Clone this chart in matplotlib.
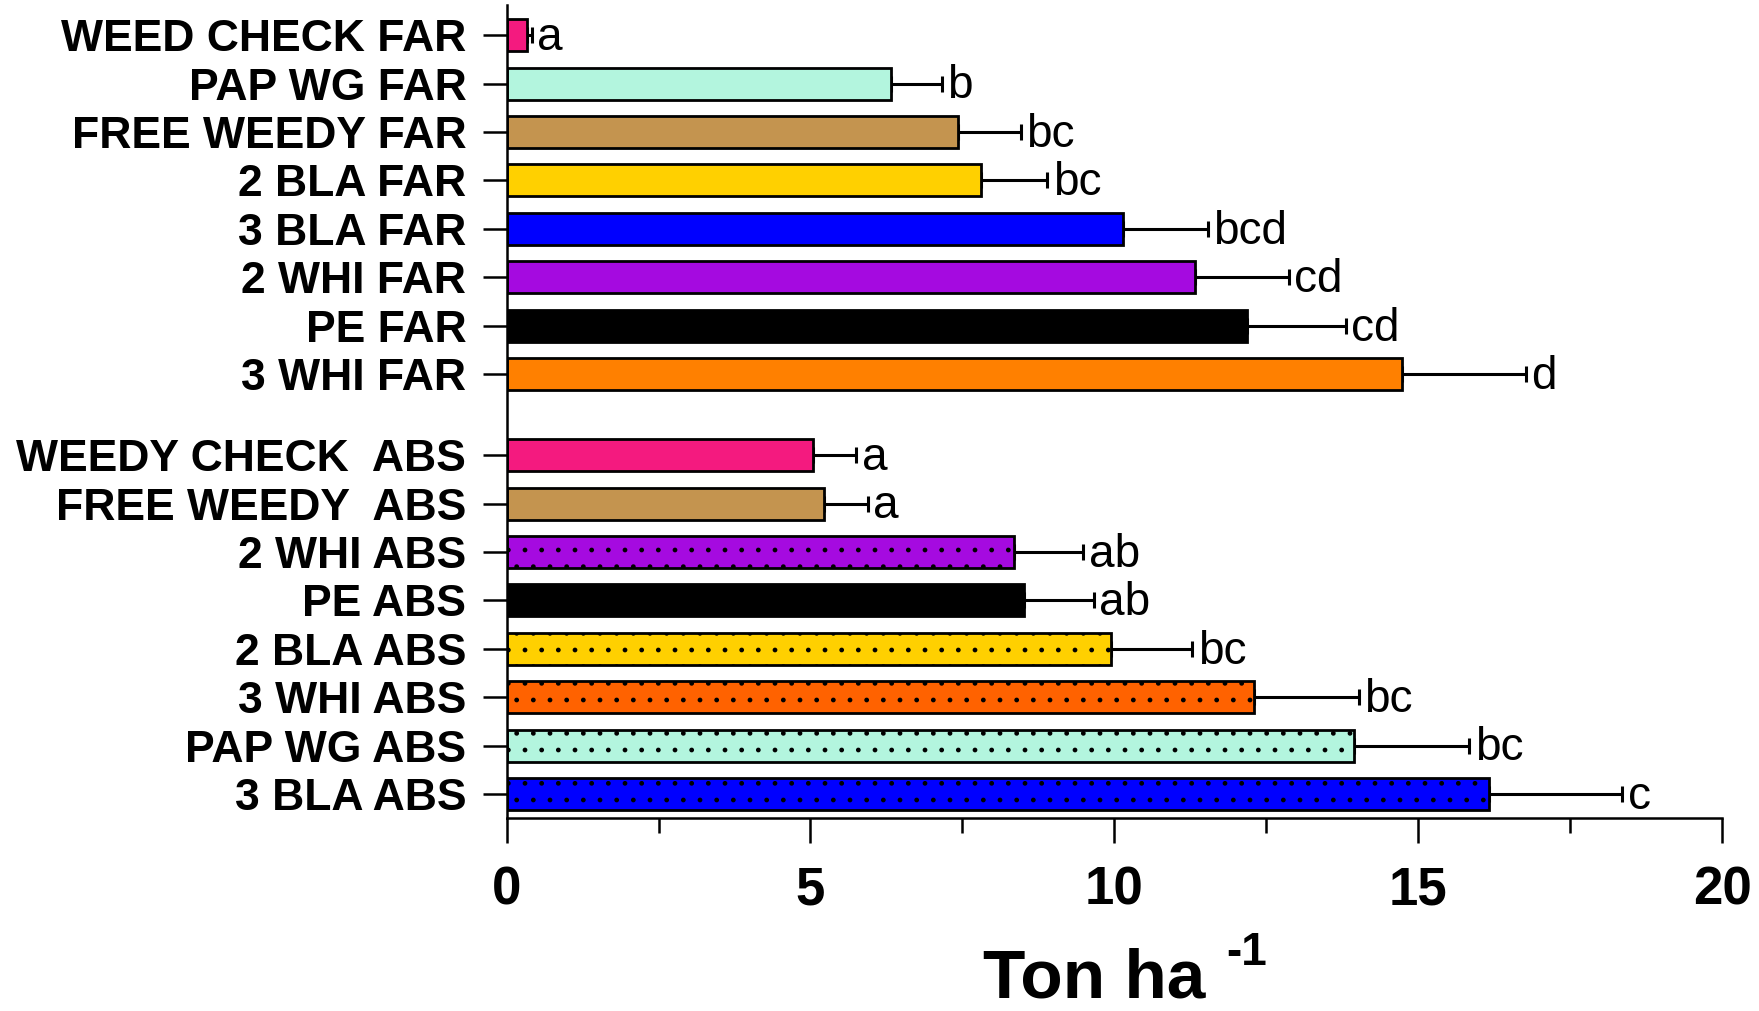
import matplotlib
matplotlib.use("Agg")
from matplotlib import pyplot as plt
from matplotlib.ticker import MultipleLocator

plt.rcParams['font.family'] = ['Liberation Sans', 'DejaVu Sans']

# FAR treatments (top group)
labels_far = ["WEED CHECK FAR", "PAP WG FAR", "FREE WEEDY FAR", "2 BLA FAR",
              "3 BLA FAR", "2 WHI FAR", "PE FAR", "3 WHI FAR"]
means_far = [0.33, 6.32, 7.42, 7.81, 10.14, 11.32, 12.19, 14.74]
errs_far = [0.08, 0.84, 1.04, 1.09, 1.40, 1.55, 1.62, 2.03]
letters_far = ["a", "b", "bc", "bc", "bcd", "cd", "cd", "d"]
colors_far = ["#F41A7F", "#B3F5DE", "#C4944F", "#FFD000",
              "#0000FF", "#A50AE0", "#000000", "#FF8000"]

# ABS treatments (bottom group)
labels_abs = ["WEEDY CHECK  ABS", "FREE WEEDY  ABS", "2 WHI ABS", "PE ABS",
              "2 BLA ABS", "3 WHI ABS", "PAP WG ABS", "3 BLA ABS"]
means_abs = [5.04, 5.23, 8.35, 8.51, 9.94, 12.30, 13.94, 16.16]
errs_abs = [0.71, 0.71, 1.14, 1.15, 1.34, 1.72, 1.90, 2.20]
letters_abs = ["a", "a", "ab", "ab", "bc", "bc", "bc", "c"]
colors_abs = ["#F41A7F", "#C4944F", "#A50AE0", "#000000",
              "#FFD000", "#FF6200", "#B3F5DE", "#0000FF"]
hatch_abs = ["", "", ".", "", ".", ".", ".", "."]

group_gap = 1.67
pos_far = list(range(len(labels_far)))
pos_abs = [len(labels_far) - 1 + group_gap + i for i in range(len(labels_abs))]

fig = plt.figure(figsize=(17.59, 10.11), dpi=100)
ax = fig.add_axes([0.288, 0.191, 0.691, 0.804])

bar_h = 0.66
ax.barh(pos_far, means_far, height=bar_h, color=colors_far,
        edgecolor="black", linewidth=2, zorder=2)
bars_abs = ax.barh(pos_abs, means_abs, height=bar_h, color=colors_abs,
                   edgecolor="black", linewidth=2, zorder=2)
for b, h in zip(bars_abs, hatch_abs):
    b.set_hatch(h)

pos = pos_far + pos_abs
means = means_far + means_abs
errs = errs_far + errs_abs
letters = letters_far + letters_abs

ax.errorbar(means, pos, xerr=[[0] * len(errs), errs], fmt="none",
            ecolor="black", elinewidth=2.2, capsize=5.5, capthick=2.2, zorder=1)

for y, m, e, t in zip(pos, means, errs, letters):
    ax.annotate(t, (m + e, y), xytext=(4, -2), textcoords="offset points",
                ha="left", va="center", fontsize=33)

ax.set_yticks(pos)
ax.set_yticklabels(labels_far + labels_abs, fontsize=32, fontweight="bold")
ax.set_ylim(pos_abs[-1] + 0.49, -0.62)
ax.set_xlim(0, 20)
ax.xaxis.set_major_locator(MultipleLocator(5))
ax.xaxis.set_minor_locator(MultipleLocator(2.5))
for lab in ax.get_xticklabels():
    lab.set_fontsize(38)
    lab.set_fontweight("bold")

ax.tick_params(axis="y", direction="out", length=17, width=1.8, pad=12)
ax.tick_params(axis="x", which="major", direction="out", length=18, width=1.8, pad=16)
ax.tick_params(axis="x", which="minor", direction="out", length=11, width=1.8)

for s in ["top", "right"]:
    ax.spines[s].set_visible(False)
for s in ["left", "bottom"]:
    ax.spines[s].set_linewidth(1.8)

# x axis title with superscript unit
fig.text(983 / 1759, 0.0, "Ton ha", fontsize=50, fontweight="bold",
         ha="left", va="bottom")
fig.text(1226 / 1759, 1 - 965 / 1011, "-1", fontsize=33, fontweight="bold",
         ha="left", va="baseline")

fig.savefig("out.png", dpi=100)
